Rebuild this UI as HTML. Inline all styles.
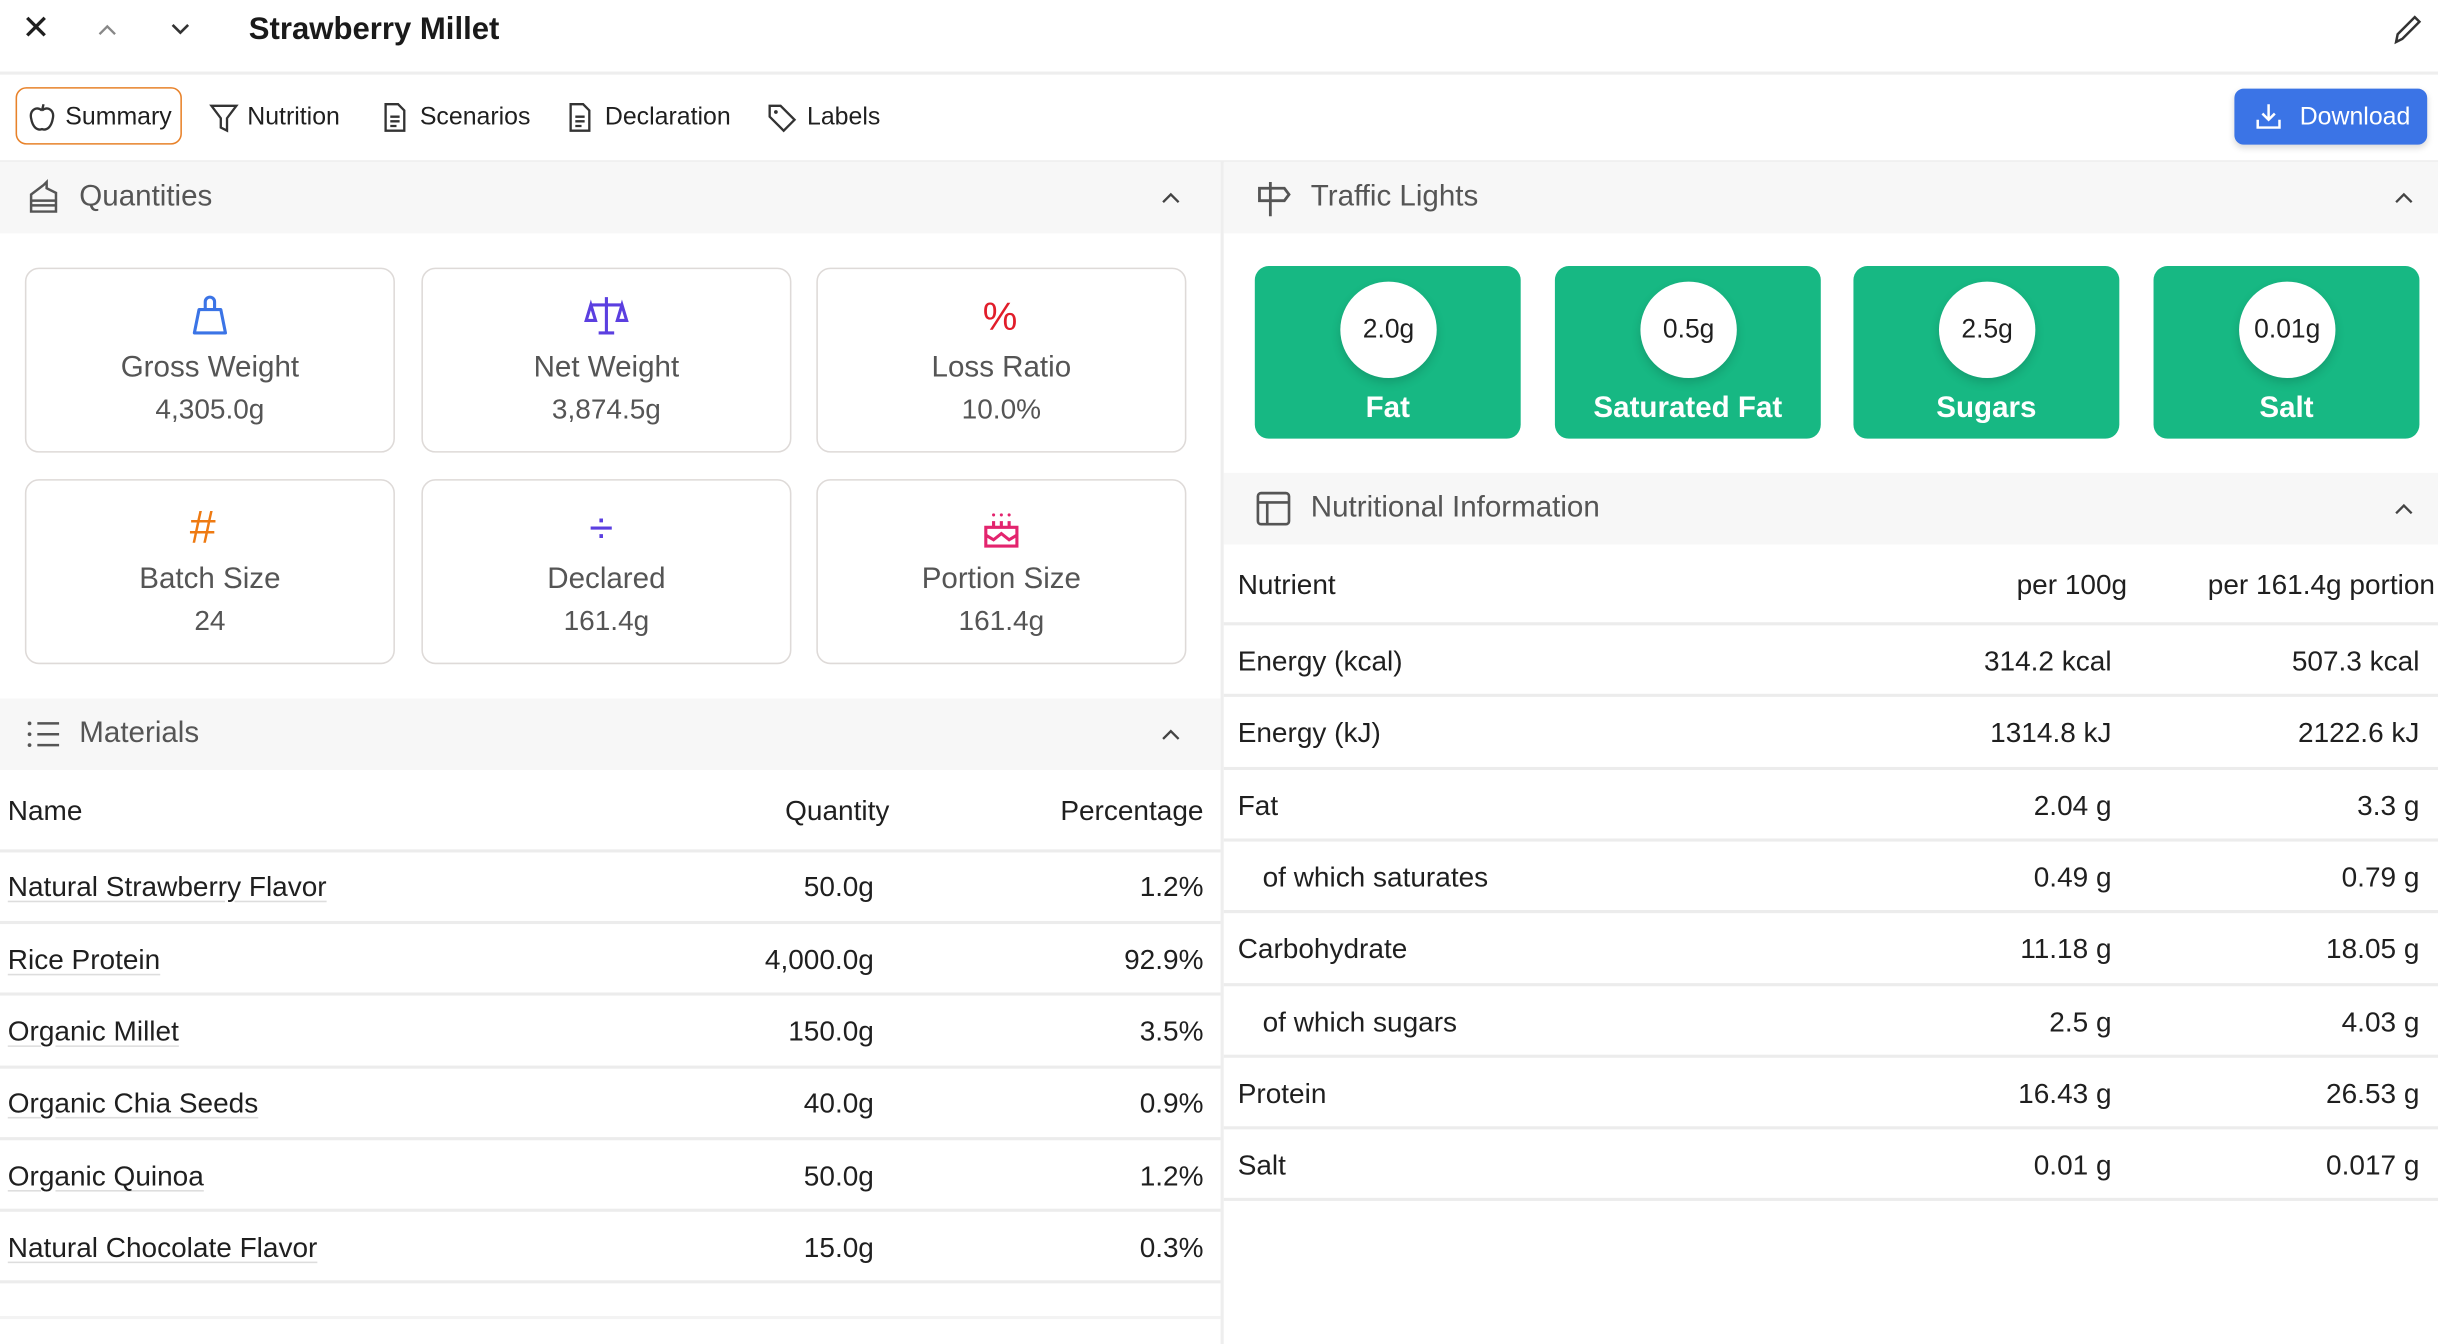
<!DOCTYPE html>
<html><head><meta charset="utf-8"><style>
html,body{margin:0;padding:0;background:#fff;overflow:hidden}
body{width:2438px;height:1344px}
#w{position:absolute;left:0;top:0;width:1568px;height:864px;transform:scale(1.5549,1.5556);transform-origin:0 0;font-family:"Liberation Sans",sans-serif;color:#1f1f1f}
.a{position:absolute;line-height:20px;white-space:nowrap}
.r{text-align:right}
.c{text-align:center}
.hl{position:absolute;height:1.5px;background:#ececec}
.hdr{position:absolute;height:46px;background:#f7f7f7}
.card{position:absolute;border:1.5px solid #dedad8;border-radius:9px;box-sizing:border-box;background:#fff}
.tl{position:absolute;top:171px;width:171px;height:111px;background:#17b883;border-radius:9px}
.circ{position:absolute;left:55px;top:10px;width:62px;height:62px;border-radius:50%;background:#fff;box-shadow:0 3px 6px rgba(0,0,0,.15);font-size:17px;line-height:62px;text-align:center;color:#1f1f1f}
.tlab{position:absolute;left:0;width:171px;top:81px;text-align:center;color:#fff;font-weight:bold;font-size:19px;line-height:22px}
.ct{font-size:18px;color:#555}
.tt{font-size:19px !important}
.u{text-decoration:underline;text-decoration-color:#ddd;text-underline-offset:3px}
.m{font-size:18px}
svg{position:absolute}
</style></head><body><div id="w">
<!-- top bar -->
<div class="a" style="left:14px;top:8px;font-size:22px">✕</div>
<svg style="left:62px;top:13px" width="14" height="12"><path d="M2 9 L7 4 L12 9" stroke="#888" stroke-width="1.5" fill="none"/></svg>
<svg style="left:109px;top:13px" width="14" height="12"><path d="M2 3 L7 8 L12 3" stroke="#333" stroke-width="1.7" fill="none"/></svg>
<div class="a" style="left:160px;top:9px;font-size:20px;font-weight:bold;color:#1a1a1a">Strawberry Millet</div>
<svg style="left:1537px;top:8px" width="22" height="22"><path d="M4 19 L5 14 L16 3 L19 6 L8 17 Z" stroke="#333" stroke-width="1.6" fill="none"/></svg>
<div class="hl" style="left:0;top:46px;width:1568px;background:#eee"></div>
<!-- tabs -->
<div style="position:absolute;left:10px;top:56px;width:107px;height:37px;border:1.5px solid #e8822a;border-radius:7px;box-sizing:border-box"></div>
<svg style="left:17px;top:66px" width="20" height="20"><path d="M10 5 C6 2 2 5 3 10 C4 16 7 18 10 17 C13 18 16 16 17 10 C18 5 14 2 10 5 M10 5 L11 1" stroke="#333" stroke-width="1.5" fill="none"/></svg>
<div class="a" style="left:42px;top:66px;font-size:16px">Summary</div>
<svg style="left:134px;top:66px" width="20" height="20"><path d="M2 2 H18 L12 10 V18 L8 16 V10 Z" stroke="#333" stroke-width="1.5" fill="none"/></svg>
<div class="a" style="left:159px;top:66px;font-size:16px">Nutrition</div>
<svg style="left:245px;top:65px" width="18" height="21"><path d="M3 2 H11 L15 6 V19 H3 Z M6 10 H12 M6 13 H12 M6 16 H10" stroke="#333" stroke-width="1.5" fill="none"/></svg>
<div class="a" style="left:270px;top:66px;font-size:16px">Scenarios</div>
<svg style="left:364px;top:65px" width="18" height="21"><path d="M3 2 H11 L15 6 V19 H3 Z M6 10 H12 M6 13 H12 M6 16 H10" stroke="#333" stroke-width="1.5" fill="none"/></svg>
<div class="a" style="left:389px;top:66px;font-size:16px">Declaration</div>
<svg style="left:493px;top:65px" width="21" height="21"><path d="M2 3 V10 L11 19 L18 12 L9 3 Z" stroke="#333" stroke-width="1.5" fill="none"/><circle cx="6" cy="7" r="1.2" fill="#333"/></svg>
<div class="a" style="left:519px;top:66px;font-size:16px">Labels</div>
<div style="position:absolute;left:1437px;top:57px;width:124px;height:36px;background:#3b74e6;border-radius:6px;box-shadow:0 2px 4px rgba(0,0,0,.15)"></div>
<svg style="left:1449px;top:65px" width="20" height="20"><path d="M10 2 V12 M6 8 L10 12 L14 8 M3 12 V17 H17 V12" stroke="#fff" stroke-width="1.6" fill="none"/></svg>
<div class="a" style="left:1479px;top:66px;font-size:16px;color:#fff">Download</div>
<div class="hl" style="left:0;top:103px;width:1568px;background:#eee"></div>
<div style="position:absolute;left:785px;top:104px;width:1.5px;height:760px;background:#eee"></div>

<!-- Quantities -->
<div class="hdr" style="left:0;top:104px;width:785px"></div>
<svg style="left:16px;top:115px" width="24" height="24"><path d="M4 21 V10 L12 4 L14 2 V6 L20 9 V21 Z M4 14 H20 M4 17 H20" stroke="#555" stroke-width="1.6" fill="none"/></svg>
<div class="a" style="left:51px;top:117px;font-size:19px;color:#555">Quantities</div>
<svg style="left:746px;top:121px" width="14" height="12"><path d="M2 9 L7 4 L12 9" stroke="#444" stroke-width="1.5" fill="none"/></svg>

<div class="card" style="left:16px;top:172px;width:238px;height:119px"></div>
<div class="card" style="left:271px;top:172px;width:238px;height:119px"></div>
<div class="card" style="left:525px;top:172px;width:238px;height:119px"></div>
<div class="card" style="left:16px;top:308px;width:238px;height:119px"></div>
<div class="card" style="left:271px;top:308px;width:238px;height:119px"></div>
<div class="card" style="left:525px;top:308px;width:238px;height:119px"></div>

<svg style="left:121px;top:188px" width="28" height="28"><path d="M7 11 H21 L24 26 H4 Z M11 11 V6 A3 3 0 0 1 17 6 V11" stroke="#3b74e6" stroke-width="2" fill="none" stroke-linejoin="round"/></svg>
<svg style="left:375px;top:188px" width="30" height="30"><path d="M15 3 V26 M10 26 H20 M5 8 H25 M5 8 L2 18 H8 Z M25 8 L22 18 H28 Z" stroke="#5b3fe0" stroke-width="2" fill="none"/></svg>
<div class="a" style="left:632px;top:190px;font-size:25px;line-height:28px;color:#e11d2a">%</div>
<div class="a" style="left:122px;top:324px;font-size:30px;line-height:32px;color:#ee7a12">#</div>
<div class="a" style="left:379px;top:324px;font-size:28px;line-height:32px;color:#5b3fe0">÷</div>
<svg style="left:630px;top:325px" width="28" height="28"><path d="M4 26 H24 V14 H4 Z M4 19 L9 22 L14 18 L19 22 L24 19 M9 14 V10 M14 14 V10 M19 14 V10" stroke="#e3246e" stroke-width="2" fill="none"/><circle cx="9" cy="6" r="1" fill="#e3246e"/><circle cx="14" cy="6" r="1" fill="#e3246e"/><circle cx="19" cy="6" r="1" fill="#e3246e"/></svg>

<div class="a c ct tt" style="left:16px;width:238px;top:227px">Gross Weight</div>
<div class="a c ct" style="left:16px;width:238px;top:253px">4,305.0g</div>
<div class="a c ct tt" style="left:271px;width:238px;top:227px">Net Weight</div>
<div class="a c ct" style="left:271px;width:238px;top:253px">3,874.5g</div>
<div class="a c ct tt" style="left:525px;width:238px;top:227px">Loss Ratio</div>
<div class="a c ct" style="left:525px;width:238px;top:253px">10.0%</div>
<div class="a c ct tt" style="left:16px;width:238px;top:363px">Batch Size</div>
<div class="a c ct" style="left:16px;width:238px;top:389px">24</div>
<div class="a c ct tt" style="left:271px;width:238px;top:363px">Declared</div>
<div class="a c ct" style="left:271px;width:238px;top:389px">161.4g</div>
<div class="a c ct tt" style="left:525px;width:238px;top:363px">Portion Size</div>
<div class="a c ct" style="left:525px;width:238px;top:389px">161.4g</div>

<!-- Materials -->
<div class="hdr" style="left:0;top:449px;width:785px"></div>
<svg style="left:16px;top:461px" width="24" height="22"><path d="M8 4 H22 M8 11 H22 M8 18 H22" stroke="#555" stroke-width="1.6"/><circle cx="3" cy="4" r="1.2" fill="#555"/><circle cx="3" cy="11" r="1.2" fill="#555"/><circle cx="3" cy="18" r="1.2" fill="#555"/></svg>
<div class="a" style="left:51px;top:462px;font-size:19px;color:#555">Materials</div>
<svg style="left:746px;top:466px" width="14" height="12"><path d="M2 9 L7 4 L12 9" stroke="#444" stroke-width="1.5" fill="none"/></svg>

<div class="a m" style="left:5px;top:511px">Name</div>
<div class="a r m" style="left:400px;width:172px;top:511px">Quantity</div>
<div class="a r m" style="left:600px;width:174px;top:511px">Percentage</div>
<div class="hl" style="left:0;top:546px;width:785px"></div>

<div class="a u m" style="left:5px;top:560px">Natural Strawberry Flavor</div><div class="a r m" style="left:400px;width:162px;top:560px">50.0g</div><div class="a r m" style="left:600px;width:174px;top:560px">1.2%</div>
<div class="hl" style="left:0;top:592px;width:785px"></div>
<div class="a u m" style="left:5px;top:607px">Rice Protein</div><div class="a r m" style="left:400px;width:162px;top:607px">4,000.0g</div><div class="a r m" style="left:600px;width:174px;top:607px">92.9%</div>
<div class="hl" style="left:0;top:638px;width:785px"></div>
<div class="a u m" style="left:5px;top:653px">Organic Millet</div><div class="a r m" style="left:400px;width:162px;top:653px">150.0g</div><div class="a r m" style="left:600px;width:174px;top:653px">3.5%</div>
<div class="hl" style="left:0;top:685px;width:785px"></div>
<div class="a u m" style="left:5px;top:699px">Organic Chia Seeds</div><div class="a r m" style="left:400px;width:162px;top:699px">40.0g</div><div class="a r m" style="left:600px;width:174px;top:699px">0.9%</div>
<div class="hl" style="left:0;top:731px;width:785px"></div>
<div class="a u m" style="left:5px;top:746px">Organic Quinoa</div><div class="a r m" style="left:400px;width:162px;top:746px">50.0g</div><div class="a r m" style="left:600px;width:174px;top:746px">1.2%</div>
<div class="hl" style="left:0;top:777px;width:785px"></div>
<div class="a u m" style="left:5px;top:792px">Natural Chocolate Flavor</div><div class="a r m" style="left:400px;width:162px;top:792px">15.0g</div><div class="a r m" style="left:600px;width:174px;top:792px">0.3%</div>
<div class="hl" style="left:0;top:823px;width:785px"></div>
<div class="hl" style="left:0;top:846px;width:785px;background:#f3f3f3"></div>

<!-- Traffic lights -->
<div class="hdr" style="left:787px;top:104px;width:781px"></div>
<svg style="left:807px;top:115px" width="26" height="26"><path d="M10 2 V24 M3 6 H19 L22 10 L19 14 H3 Z" stroke="#555" stroke-width="1.8" fill="none"/></svg>
<div class="a" style="left:843px;top:117px;font-size:19px;color:#555">Traffic Lights</div>
<svg style="left:1539px;top:121px" width="14" height="12"><path d="M2 9 L7 4 L12 9" stroke="#444" stroke-width="1.5" fill="none"/></svg>

<div class="tl" style="left:807px"><div class="circ">2.0g</div><div class="tlab">Fat</div></div>
<div class="tl" style="left:1000px"><div class="circ">0.5g</div><div class="tlab">Saturated Fat</div></div>
<div class="tl" style="left:1192px"><div class="circ">2.5g</div><div class="tlab">Sugars</div></div>
<div class="tl" style="left:1385px"><div class="circ">0.01g</div><div class="tlab">Salt</div></div>

<!-- Nutritional info -->
<div class="hdr" style="left:787px;top:304px;width:781px"></div>
<svg style="left:807px;top:315px" width="24" height="24"><rect x="2" y="2" width="20" height="20" rx="2" stroke="#555" stroke-width="1.7" fill="none"/><path d="M2 8 H22 M8 8 V22" stroke="#555" stroke-width="1.7"/></svg>
<div class="a" style="left:843px;top:317px;font-size:19px;color:#555">Nutritional Information</div>
<svg style="left:1539px;top:321px" width="14" height="12"><path d="M2 9 L7 4 L12 9" stroke="#444" stroke-width="1.5" fill="none"/></svg>

<div class="a m" style="left:796px;top:366px">Nutrient</div>
<div class="a r m" style="left:1200px;width:168px;top:366px">per 100g</div>
<div class="a r m" style="left:1380px;width:186px;top:366px">per 161.4g portion</div>
<div class="hl" style="left:787px;top:400px;width:781px"></div>

<div class="a m" style="left:796px;top:415px">Energy (kcal)</div><div class="a r m" style="left:1200px;width:158px;top:415px">314.2 kcal</div><div class="a r m" style="left:1380px;width:176px;top:415px">507.3 kcal</div>
<div class="hl" style="left:787px;top:446px;width:781px"></div>
<div class="a m" style="left:796px;top:461px">Energy (kJ)</div><div class="a r m" style="left:1200px;width:158px;top:461px">1314.8 kJ</div><div class="a r m" style="left:1380px;width:176px;top:461px">2122.6 kJ</div>
<div class="hl" style="left:787px;top:493px;width:781px"></div>
<div class="a m" style="left:796px;top:508px">Fat</div><div class="a r m" style="left:1200px;width:158px;top:508px">2.04 g</div><div class="a r m" style="left:1380px;width:176px;top:508px">3.3 g</div>
<div class="hl" style="left:787px;top:539px;width:781px"></div>
<div class="a m" style="left:812px;top:554px">of which saturates</div><div class="a r m" style="left:1200px;width:158px;top:554px">0.49 g</div><div class="a r m" style="left:1380px;width:176px;top:554px">0.79 g</div>
<div class="hl" style="left:787px;top:585px;width:781px"></div>
<div class="a m" style="left:796px;top:600px">Carbohydrate</div><div class="a r m" style="left:1200px;width:158px;top:600px">11.18 g</div><div class="a r m" style="left:1380px;width:176px;top:600px">18.05 g</div>
<div class="hl" style="left:787px;top:632px;width:781px"></div>
<div class="a m" style="left:812px;top:647px">of which sugars</div><div class="a r m" style="left:1200px;width:158px;top:647px">2.5 g</div><div class="a r m" style="left:1380px;width:176px;top:647px">4.03 g</div>
<div class="hl" style="left:787px;top:678px;width:781px"></div>
<div class="a m" style="left:796px;top:693px">Protein</div><div class="a r m" style="left:1200px;width:158px;top:693px">16.43 g</div><div class="a r m" style="left:1380px;width:176px;top:693px">26.53 g</div>
<div class="hl" style="left:787px;top:724px;width:781px"></div>
<div class="a m" style="left:796px;top:739px">Salt</div><div class="a r m" style="left:1200px;width:158px;top:739px">0.01 g</div><div class="a r m" style="left:1380px;width:176px;top:739px">0.017 g</div>
<div class="hl" style="left:787px;top:770px;width:781px"></div>
</div></body></html>
